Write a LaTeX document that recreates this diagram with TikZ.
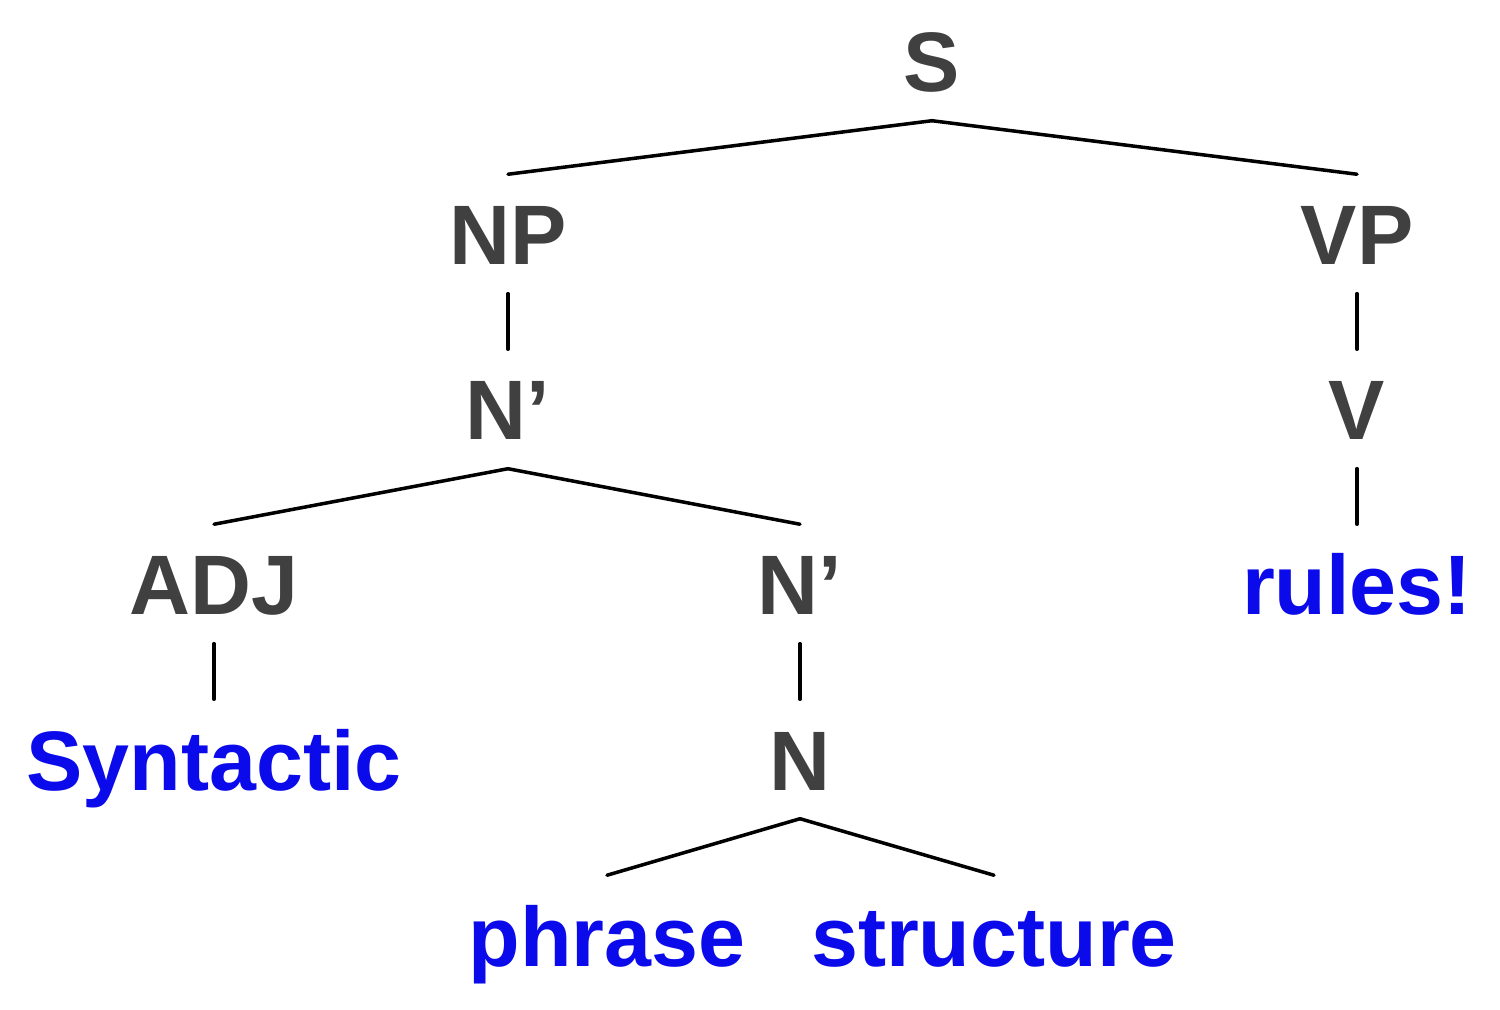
\documentclass[tikz,border=0pt]{standalone}
\usepackage{fontspec}
\setmainfont{Liberation Sans}
\definecolor{labelgray}{RGB}{64,64,64}
\definecolor{wordblue}{RGB}{10,10,235}

\begin{document}
\begin{tikzpicture}[x=0.01cm,y=-0.01cm,line cap=round,
    treenode/.style={anchor=base,font=\fontsize{24}{29}\selectfont\bfseries,
        text height=0.62cm,text depth=0pt,inner xsep=0pt,inner ysep=0.28cm},
    phrasecat/.style={treenode,text=labelgray},
    leafword/.style={treenode,text=wordblue},
    branch/.style={line width=1pt}]
    \useasboundingbox (0,0) rectangle (1500,1010);

    % categories
    \node[phrasecat] (s) at (932,92) {S};
    \node[phrasecat] (np) at (508,265) {NP};
    \node[phrasecat] (vp) at (1357,265) {VP};
    \node[phrasecat] (nbar) at (508,440) {N’};
    \node[phrasecat] (v) at (1357,440) {V};
    \node[phrasecat] (adj) at (214,615) {ADJ};
    \node[phrasecat] (nbarlow) at (800,615) {N’};
    \node[phrasecat] (n) at (800,790) {N};

    % words
    \node[leafword] (rules) at (1357,615) {rules!};
    \node[leafword] (syntactic) at (214,790) {Syntactic};
    \node[leafword] (phrase) at (607,966) {phrase};
    \node[leafword] (structure) at (994,966) {structure};

    \draw[branch] (s.south) -- (np.north);
    \draw[branch] (s.south) -- (vp.north);
    \draw[branch] (np.south) -- (nbar.north);
    \draw[branch] (vp.south) -- (v.north);
    \draw[branch] (nbar.south) -- (adj.north);
    \draw[branch] (nbar.south) -- (nbarlow.north);
    \draw[branch] (v.south) -- (rules.north);
    \draw[branch] (adj.south) -- (syntactic.north);
    \draw[branch] (nbarlow.south) -- (n.north);
    \draw[branch] (n.south) -- (phrase.north);
    \draw[branch] (n.south) -- (structure.north);
\end{tikzpicture}
\end{document}
